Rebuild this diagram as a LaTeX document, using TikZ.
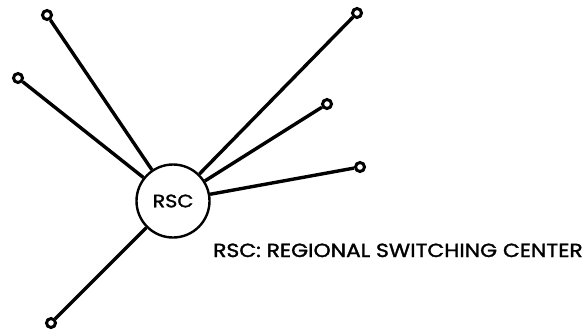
\documentclass[tikz,border=0pt]{standalone}
\usepackage{fontspec}
\setmainfont{Poppins}
\newfontfamily\labfont{Poppins}[FakeStretch=1.15,FakeBold=1.6]
\begin{document}
\begin{tikzpicture}[x=1pt,y=-1pt,
  hub/.style={circle,draw,line width=2.4pt,minimum size=73pt,inner sep=0pt,font=\labfont\fontsize{18}{18}\selectfont},
  terminal/.style={circle,draw,line width=3pt,minimum size=9pt,inner sep=0pt},
  link/.style={line width=3.4pt}]
\useasboundingbox (0,0) rectangle (583,333);
% regional switching center
\node[hub] (rsc) at (173,201) {RSC};
% outlying stations
\node[terminal] (t1) at (47,15) {};
\node[terminal] (t2) at (18,78) {};
\node[terminal] (t3) at (357,13) {};
\node[terminal] (t4) at (327,104) {};
\node[terminal] (t5) at (360,167) {};
\node[terminal] (t6) at (51,323) {};
% links from each station to the center
\foreach \t in {t1,t2,t3,t4,t5,t6}
  \draw[link] (\t) -- (rsc);
% legend
\node[anchor=base west,inner sep=0pt,font=\labfont\fontsize{19}{19}\selectfont] (legend) at (213,257) {RSC: REGIONAL SWITCHING CENTER};
\end{tikzpicture}
\end{document}
